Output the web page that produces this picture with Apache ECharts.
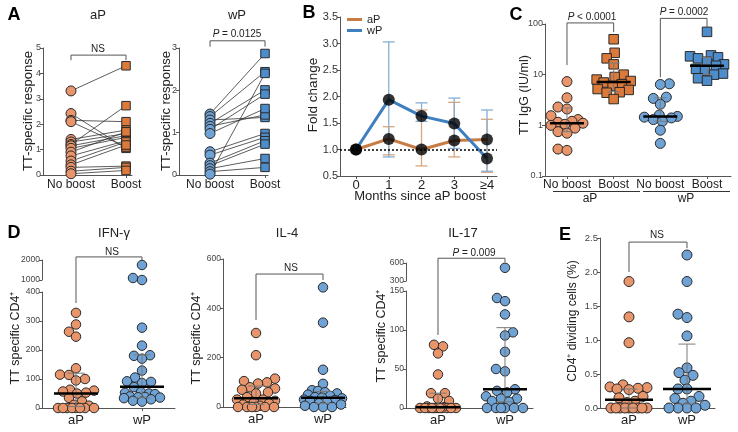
<!DOCTYPE html>
<html><head><meta charset="utf-8">
<script src="https://cdn.jsdelivr.net/npm/echarts@6/dist/echarts.min.js"></script>
<style>html,body{margin:0;padding:0;background:#fff}#c{width:738px;height:432px}</style>
</head><body><div id="c"></div>
<script>
// ================= DATA =================
const boostCats = ['No boost', 'Boost'];
const groupCats = ['aP', 'wP'];
const cCats = ['No boost', 'Boost', 'No boost', 'Boost'];
// Panel A (paired)
const aP_A_noBoost = [3.31, 2.42, 2.15, 2.1, 1.4, 1.3, 1.2, 1.15, 1.05, 0.9, 0.75, 0.55, 0.4, 0.3, 0.15, 0.05];
const aP_A_boost   = [4.3, 1.05, 2.1, 1.1, 1.77, 1.63, 2.73, 1.55, 1.48, 1.7, 1.35, 1.3, 1.18, 0.35, 0.3, 0.18];
const wP_A_noBoost = [1.44, 1.38, 1.3, 1.22, 1.15, 1.08, 0.98, 0.55, 0.47, 0.28, 0.22, 0.15, 0.08, 0.02];
const wP_A_boost   = [2.87, 2.44, 1.36, 2.01, 1.42, 1.91, 1.57, 0.98, 0.89, 0.81, 0.73, 0.39, 0.18, 2.4];
// Panel B
const monthLabels = ['0', '1', '2', '3', '≥4'];
const aP_fold   = [1.0, 1.2, 1.0, 1.17, 1.19];
const aP_foldLo = [null, 0.9, 0.69, 0.86, 0.57];
const aP_foldHi = [null, 1.43, 1.745, 1.89, 1.57];
const wP_fold   = [1.0, 1.94, 1.63, 1.49, 0.83];
const wP_foldLo = [null, 0.86, 1.53, 1.02, 0.59];
const wP_foldHi = [null, 3.03, 1.88, 1.97, 1.745];
// Panel C (TT IgG, IU/ml)
const C_aP_noBoost = [7.3, 3.5, 2.3, 2.1, 1.55, 1.3, 1.2, 1.15, 1.1, 1.05, 1.0, 0.88, 0.75, 0.7, 0.34, 0.32];
const C_aP_boost   = [50, 27, 21, 16, 10, 9, 8, 7.5, 7, 6.5, 6, 5.2, 5, 4.5, 4.4, 3.3];
const C_wP_noBoost = [6.6, 6.4, 3.6, 3.4, 2.6, 1.6, 1.5, 1.45, 1.4, 1.3, 1.2, 0.8, 0.44];
const C_wP_boost   = [70, 24, 23, 22, 21, 18, 16, 15, 13, 12, 10.5, 10, 8.5, 7.6];
const C_stats = [[0, 1.1, 0.75, 2.2], [1, 7.2, 4.6, 17], [2, 1.5, 1.2, 3.5], [3, 15, 10, 22]]; // [group, median, low, high]
// Panel D
const IFN_aP = [328, 288, 263, 246, 137, 115, 114, 100, 95, 63, 60, 57, 53, 50, 35, 23, 11, 8, 0, 0, 0, 0, 0, 0, 0, 0];
const IFN_wP = [1750, 1100, 1000, 277, 215, 182, 180, 170, 129, 105, 92, 90, 86, 72, 55, 52, 50, 48, 40, 38, 37, 36, 34, 30, 25, 22];
const IFN_stats = [[0, 50, 5, 120], [1, 73, 35, 183]];
const IL4_aP = [300, 210, 115, 100, 105, 95, 80, 75, 70, 60, 55, 40, 30, 30, 25, 20, 15, 10, 5, 0, 0, 0, 0, 0, 0];
const IL4_wP = [485, 342, 151, 94, 68, 65, 60, 55, 50, 45, 40, 38, 35, 30, 28, 25, 20, 15, 10, 5, 0, 0, 0];
const IL4_stats = [[0, 35, 10, 85], [1, 38, 15, 63]];
const IL17_aP = [81, 79, 70, 43, 19, 19, 12, 9, 2, 1, 0, 0, 0, 0, 0, 0, 0, 0, 0, 0, 0, 0];
const IL17_wP = [520, 141, 137, 120, 97, 93, 72, 50, 47, 24, 22, 20, 15, 12, 12, 9, 8, 0, 0, 0, 0, 0, 0];
const IL17_stats = [[0, 1, 0, 19], [1, 24, 8, 103]];
// Panel E
const E_aP = [1.86, 1.34, 0.96, 0.34, 0.31, 0.30, 0.29, 0.28, 0.27, 0.17, 0.15, 0.10, 0.08, 0, 0, 0, 0, 0, 0, 0, 0, 0];
const E_wP = [2.25, 1.86, 1.38, 1.33, 1.06, 0.59, 0.52, 0.48, 0.41, 0.28, 0.28, 0.17, 0.14, 0.10, 0.07, 0.04, 0, 0, 0, 0];
const E_stats = [[0, 0.12, 0, 0.28], [1, 0.28, 0.06, 0.94]];

// ================= LAYOUT / STYLE =================
const FONT = 'Liberation Sans, Arial, Helvetica, sans-serif';
const AX = '#555';
const EDGE = '#2a2a2a';
const COL = { aPc: '#E9956B', aPs: '#DB7A3A', wPc: '#6FA2D5', wPs: '#4E8DCB', aPline: '#C77C45', wPline: '#3F7FBF', aPerr: '#D9A57A', wPerr: '#86AED4' };
const G = [
  { left: 43, top: 48, width: 89, height: 127, xmin: -0.509, xmax: 1.109, ymin: 0, ymax: 5, yint: 1 },          // 0 A aP
  { left: 179, top: 48, width: 89, height: 127, xmin: -0.564, xmax: 1.054, ymin: 0, ymax: 3, yint: 1 },         // 1 A wP
  { left: 340, top: 17, width: 157, height: 159, xmin: -0.489, xmax: 4.305, ymin: 0.5, ymax: 3.5, yint: 0.5 },  // 2 B
  { left: 545, top: 24, width: 186, height: 152, xmin: -0.471, xmax: 3.514, ymin: 0.1, ymax: 100, log: true },  // 3 C
  { left: 42, top: 292, width: 133, height: 116, xmin: -0.515, xmax: 1.5, ymin: 0, ymax: 400, yint: 100 },      // 4 IFN low
  { left: 42, top: 260, width: 133, height: 20, xmin: -0.515, xmax: 1.5, ymin: 1000, ymax: 2000, yint: 1000 },  // 5 IFN up
  { left: 223, top: 259, width: 123, height: 148, xmin: -0.4925, xmax: 1.343, ymin: 0, ymax: 600, yint: 200 },  // 6 IL-4
  { left: 406, top: 291, width: 127, height: 117, xmin: -0.4776, xmax: 1.418, ymin: 0, ymax: 150, yint: 50 },   // 7 IL-17 low
  { left: 406, top: 263, width: 127, height: 18, xmin: -0.4776, xmax: 1.418, ymin: 300, ymax: 600, yint: 300 }, // 8 IL-17 up
  { left: 600, top: 238, width: 115, height: 170, xmin: -0.5, xmax: 1.483, ymin: 0, ymax: 2.5, yint: 0.5 }      // 9 E
];

function yPxFn(g) {
  if (g.log) { const a = Math.log10(g.ymin), b = Math.log10(g.ymax); return v => (Math.log10(v) - a) / (b - a) * g.height; }
  return v => (v - g.ymin) / (g.ymax - g.ymin) * g.height;
}
function unitPx(g) { return g.width / (g.xmax - g.xmin); }

// greedy beeswarm (pixel space), compresses when no free slot within maxHalf
function swarm(vals, xc, gi, d, maxHalf) {
  const g = G[gi], yp = yPxFn(g), u = unitPx(g);
  const order = vals.map((v, i) => i).sort((a, b) => vals[a] - vals[b]);
  const placed = [];
  const off = new Array(vals.length).fill(0);
  order.forEach((i, n) => {
    const y = yp(vals[i]);
    let best = 0, bestScore = -1;
    outer:
    for (let k = 0; k <= maxHalf; k += 1) {
      const cands = k === 0 ? [0] : (n % 2 ? [-k, k] : [k, -k]);
      for (const s of cands) {
        let mind = Infinity;
        for (const p of placed) { const dd = Math.hypot(p[0] - s, p[1] - y); if (dd < mind) mind = dd; }
        if (mind >= d) { best = s; break outer; }
        if (mind > bestScore + 0.01) { bestScore = mind; best = s; }
      }
    }
    placed.push([best, y]);
    off[i] = best / u;
  });
  return vals.map((v, i) => [xc + off[i], v]);
}

function grid(g) { return { left: g.left, top: g.top, width: g.width, height: g.height, containLabel: false }; }
function xAx(gi, labels, fs, margin) {
  const g = G[gi];
  const vals = labels.map((_, i) => i);
  return {
    type: 'value', gridIndex: gi, min: g.xmin, max: g.xmax, show: labels.length > 0,
    axisLine: { show: true, onZero: false, lineStyle: { color: AX, width: 1 } },
    axisTick: { show: true, length: 3, customValues: vals, lineStyle: { color: AX } },
    axisLabel: { customValues: vals, formatter: v => (labels[Math.round(v)] || ''), fontSize: fs || 12, color: '#222', margin: margin || 4, fontFamily: FONT },
    splitLine: { show: false }
  };
}
function yAx(gi, fs, fmt) {
  const g = G[gi];
  const o = {
    type: g.log ? 'log' : 'value', gridIndex: gi, min: g.ymin, max: g.ymax,
    axisLine: { show: true, onZero: false, lineStyle: { color: AX, width: 1 } },
    axisTick: { show: true, length: 3, lineStyle: { color: AX } },
    axisLabel: { fontSize: fs || 9, color: '#444', margin: 2, fontFamily: FONT, formatter: fmt || (v => String(v)) },
    splitLine: { show: false }
  };
  if (g.log) o.logBase = 10; else o.interval = g.yint;
  return o;
}
function scat(gi, data, symbol, size, color) {
  return { type: 'scatter', xAxisIndex: gi, yAxisIndex: gi, data, symbol, symbolSize: size, clip: false, silent: true, z: 3,
    itemStyle: { color, borderColor: EDGE, borderWidth: 1, opacity: 1 } };
}
function bracket(gi, pts) {
  return { type: 'line', xAxisIndex: gi, yAxisIndex: gi, data: pts, symbol: 'none', clip: false, silent: true, z: 2,
    lineStyle: { color: '#555', width: 1 } };
}
function stats(gi, data, medW, capW) {
  return { type: 'custom', xAxisIndex: gi, yAxisIndex: gi, data, z: 6, silent: true, clip: false,
    renderItem: (p, api) => {
      const x = api.value(0);
      const m = api.coord([x, api.value(1)]), lo = api.coord([x, api.value(2)]), hi = api.coord([x, api.value(3)]);
      const st = { stroke: '#7a7a7a', lineWidth: 1 };
      return { type: 'group', children: [
        { type: 'line', shape: { x1: lo[0], y1: lo[1], x2: hi[0], y2: hi[1] }, style: st },
        { type: 'line', shape: { x1: hi[0] - capW / 2, y1: hi[1], x2: hi[0] + capW / 2, y2: hi[1] }, style: st },
        { type: 'line', shape: { x1: lo[0] - capW / 2, y1: lo[1], x2: lo[0] + capW / 2, y2: lo[1] }, style: st },
        { type: 'line', shape: { x1: m[0] - medW / 2, y1: m[1], x2: m[0] + medW / 2, y2: m[1] }, style: { stroke: '#000', lineWidth: 2.5 } }
      ] };
    } };
}
function errB(gi, lo, hi, color) {
  const data = [];
  lo.forEach((v, i) => { if (v != null) data.push([i, v, hi[i]]); });
  return { type: 'custom', xAxisIndex: gi, yAxisIndex: gi, data, z: 1, silent: true, clip: false,
    renderItem: (p, api) => {
      const x = api.value(0);
      const a = api.coord([x, api.value(1)]), b = api.coord([x, api.value(2)]);
      const st = { stroke: color, lineWidth: 1.3 };
      return { type: 'group', children: [
        { type: 'line', shape: { x1: a[0], y1: a[1], x2: b[0], y2: b[1] }, style: st },
        { type: 'line', shape: { x1: a[0] - 6, y1: a[1], x2: a[0] + 6, y2: a[1] }, style: st },
        { type: 'line', shape: { x1: b[0] - 6, y1: b[1], x2: b[0] + 6, y2: b[1] }, style: st }
      ] };
    } };
}
function pairLines(gi, nb, b) {
  return { type: 'lines', coordinateSystem: 'cartesian2d', xAxisIndex: gi, yAxisIndex: gi, silent: true, z: 2,
    data: nb.map((v, i) => ({ coords: [[0, v], [1, b[i]]] })),
    lineStyle: { color: '#333', width: 0.8, opacity: 1 } };
}

// ================= SERIES =================
const series = [];
// A
series.push(pairLines(0, aP_A_noBoost, aP_A_boost));
series.push(scat(0, aP_A_noBoost.map(v => [0, v]), 'circle', 10, COL.aPc));
series.push(scat(0, aP_A_boost.map(v => [1, v]), 'rect', 8.5, COL.aPs));
series.push(bracket(0, [[0, 4.52], [0, 4.72], [1, 4.72], [1, 4.52]]));
series.push(pairLines(1, wP_A_noBoost, wP_A_boost));
series.push(scat(1, wP_A_noBoost.map(v => [0, v]), 'circle', 10, COL.wPc));
series.push(scat(1, wP_A_boost.map(v => [1, v]), 'rect', 8.5, COL.wPs));
series.push(bracket(1, [[0, 3.03], [0, 3.17], [1, 3.17], [1, 3.03]]));
// B
series.push(errB(2, aP_foldLo, aP_foldHi, COL.aPerr));
series.push(errB(2, wP_foldLo, wP_foldHi, COL.wPerr));
series.push({ type: 'line', name: 'aP', xAxisIndex: 2, yAxisIndex: 2, data: aP_fold.map((v, i) => [i, v]), symbol: 'none', z: 3, silent: true,
  lineStyle: { color: COL.aPline, width: 3 }, itemStyle: { color: COL.aPline },
  markLine: { silent: true, symbol: 'none', label: { show: false }, data: [{ yAxis: 1 }], lineStyle: { type: [2, 2], color: '#000', width: 1.5 } } });
series.push({ type: 'line', name: 'wP', xAxisIndex: 2, yAxisIndex: 2, data: wP_fold.map((v, i) => [i, v]), symbol: 'none', z: 4, silent: true,
  lineStyle: { color: COL.wPline, width: 3 }, itemStyle: { color: COL.wPline } });
series.push({ type: 'scatter', xAxisIndex: 2, yAxisIndex: 2, silent: true, z: 5, symbolSize: 12, itemStyle: { color: '#000' },
  data: aP_fold.map((v, i) => [i, v]).concat(wP_fold.map((v, i) => [i, v])) });
// C
series.push(scat(3, swarm(C_aP_noBoost, 0, 3, 9, 17), 'circle', 10, COL.aPc));
series.push(scat(3, swarm(C_aP_boost, 1, 3, 9, 17), 'rect', 9.5, COL.aPs));
series.push(scat(3, swarm(C_wP_noBoost, 2, 3, 9, 17), 'circle', 10, COL.wPc));
series.push(scat(3, swarm(C_wP_boost, 3, 3, 9, 17), 'rect', 9.5, COL.wPs));
series.push(stats(3, C_stats, 34, 12));
series.push(bracket(3, [[0, 15.5], [0, 105], [1, 105], [1, 69]]));
series.push(bracket(3, [[2, 8.9], [2, 129], [3, 129], [3, 88]]));
// D IFN
const IFNlo_wP = IFN_wP.filter(v => v <= 400), IFNhi_wP = IFN_wP.filter(v => v > 400);
series.push(scat(4, swarm(IFN_aP, 0, 4, 8.5, 18), 'circle', 9.5, COL.aPc));
series.push(scat(4, swarm(IFNlo_wP, 1, 4, 8.5, 18), 'circle', 9.5, COL.wPc));
series.push(scat(5, swarm(IFNhi_wP, 1, 5, 8.5, 18), 'circle', 9.5, COL.wPc));
series.push(stats(4, IFN_stats, 44, 17));
series.push(bracket(4, [[0, 362], [0, 521], [1, 521], [1, 510]]));
// D IL-4
series.push(scat(6, swarm(IL4_aP, 0, 6, 8.5, 19), 'circle', 9.5, COL.aPc));
series.push(scat(6, swarm(IL4_wP, 1, 6, 8.5, 19), 'circle', 9.5, COL.wPc));
series.push(stats(6, IL4_stats, 44, 17));
series.push(bracket(6, [[0, 353], [0, 539], [1, 539], [1, 515]]));
// D IL-17
const IL17lo_wP = IL17_wP.filter(v => v <= 150), IL17hi_wP = IL17_wP.filter(v => v > 150);
series.push(scat(7, swarm(IL17_aP, 0, 7, 8.5, 19), 'circle', 9.5, COL.aPc));
series.push(scat(7, swarm(IL17lo_wP, 1, 7, 8.5, 19), 'circle', 9.5, COL.wPc));
series.push(scat(8, swarm(IL17hi_wP, 1, 8, 8.5, 19), 'circle', 9.5, COL.wPc));
series.push(stats(7, IL17_stats, 44, 17));
series.push(bracket(7, [[0, 93.6], [0, 192], [1, 192], [1, 187]]));
// E
series.push(scat(9, swarm(E_aP, 0, 9, 9, 19), 'circle', 10, COL.aPc));
series.push(scat(9, swarm(E_wP, 1, 9, 9, 19), 'circle', 10, COL.wPc));
series.push(stats(9, E_stats, 48, 17));
series.push(bracket(9, [[0, 2.0], [0, 2.44], [1, 2.44], [1, 2.35]]));

// ================= AXES =================
const xAxis = [
  xAx(0, boostCats, 12, 4), xAx(1, boostCats, 12, 4), xAx(2, monthLabels, 13, 3), xAx(3, cCats, 12, 3),
  xAx(4, groupCats, 13, 6), Object.assign(xAx(5, []), { show: false }), xAx(6, groupCats, 13, 6),
  xAx(7, groupCats, 13, 6), Object.assign(xAx(8, []), { show: false }), xAx(9, groupCats, 13, 6)
];
const f1 = v => v.toFixed(1);
const yAxis = [
  yAx(0, 9), yAx(1, 9), yAx(2, 11, f1), yAx(3, 9), yAx(4, 8.5), yAx(5, 8.5), yAx(6, 8.5), yAx(7, 8.5), yAx(8, 8.5), yAx(9, 9.5, f1)
];
yAxis[2].axisLabel.color = '#333';

// ================= TEXT =================
const gfx = [];
function txt(s, x, y, fs, opt) {
  opt = opt || {};
  gfx.push({ type: 'text', x, y, rotation: opt.rot || 0, silent: true,
    style: Object.assign({ text: s, fill: opt.color || '#222', fontSize: fs, fontFamily: FONT, fontWeight: opt.bold ? 'bold' : 'normal',
      align: 'center', verticalAlign: 'middle', textAlign: 'center', textVerticalAlign: 'middle' }, opt.rich ? { rich: opt.rich } : {}) });
}
const pRich = { i: { fontStyle: 'italic', fontSize: 10, fontFamily: FONT, fill: '#222' }, n: { fontSize: 10, fontFamily: FONT, fill: '#222' } };
[['A', 14, 15], ['B', 309, 13], ['C', 516, 15], ['D', 14, 233], ['E', 565, 235]].forEach(t => txt(t[0], t[1], t[2], 18, { bold: true, color: '#000' }));
[['aP', 98, 15], ['wP', 237, 15], ['IFN-γ', 114, 233], ['IL-4', 287, 233], ['IL-17', 463, 233]].forEach(t => txt(t[0], t[1], t[2], 13));
[['TT-specific response', 28, 111, 13], ['TT-specific response', 166, 111, 13], ['Fold change', 313, 95, 13.5], ['TT IgG (IU/ml)', 525, 95, 12.5],
 ['TT specific CD4⁺', 16, 338, 12.5], ['TT specific CD4⁺', 197, 338, 12.5], ['TT specific CD4⁺', 382, 336, 12.5], ['CD4⁺ dividing cells (%)', 573, 321, 12]]
  .forEach(t => txt(t[0], t[1], t[2], t[3], { rot: Math.PI / 2 }));
txt('NS', 98, 49, 10);
txt('{i|P}{n| = 0.0125}', 237, 34, 10, { rich: pRich });
txt('{i|P}{n| < 0.0001}', 592, 17, 10, { rich: pRich });
txt('{i|P}{n| = 0.0002}', 684, 12, 10, { rich: pRich });
txt('NS', 112, 252, 10);
txt('NS', 291, 268, 10);
txt('{i|P}{n| = 0.009}', 474, 253, 10, { rich: pRich });
txt('NS', 657, 235, 10);
txt('Months since aP boost', 420, 196, 13);
txt('aP', 590, 199, 12);
txt('wP', 686, 199, 12);
gfx.push({ type: 'line', silent: true, shape: { x1: 553, y1: 191.5, x2: 640, y2: 191.5 }, style: { stroke: '#333', lineWidth: 1 } });
gfx.push({ type: 'line', silent: true, shape: { x1: 643, y1: 191.5, x2: 730, y2: 191.5 }, style: { stroke: '#333', lineWidth: 1 } });

const option = {
  animation: false,
  backgroundColor: '#fff',
  grid: G.map(grid),
  xAxis, yAxis, series,
  legend: { data: ['aP', 'wP'], orient: 'vertical', left: 347, top: 14, itemWidth: 15, itemHeight: 3, itemGap: 0, icon: 'rect', padding: 0,
    selectedMode: false, textStyle: { fontSize: 11, fontFamily: FONT, color: '#222', lineHeight: 10 } },
  graphic: gfx
};
const chart = echarts.init(document.getElementById('c'), null, { renderer: 'canvas', width: 738, height: 432 });
chart.setOption(option);
</script></body></html>
